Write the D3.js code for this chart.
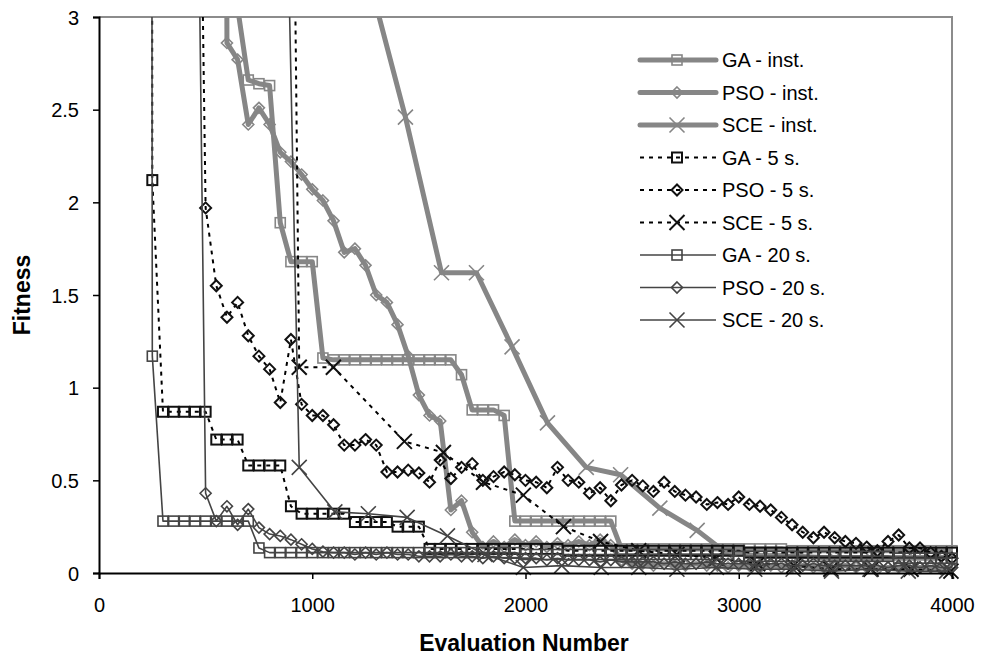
<!DOCTYPE html>
<html>
<head>
<meta charset="utf-8">
<script src="https://cdn.jsdelivr.net/npm/d3@7"></script>
<style>
  body { margin: 0; background: #fff; }
  svg { display: block; font-family: "Liberation Sans", Arial, sans-serif; }
</style>
</head>
<body>
<div id="chart"></div>
<script>
// evaluation numbers used by GA and PSO runs
const evals = [
  50,100,150,200,250,300,350,400,450,500,
  550,600,650,700,750,800,850,900,950,1000,
  1050,1100,1150,1200,1250,1300,1350,1400,1450,1500,
  1550,1600,1650,1700,1750,1800,1850,1900,1950,2000,
  2050,2100,2150,2200,2250,2300,2350,2400,2450,2500,
  2550,2600,2650,2700,2750,2800,2850,2900,2950,3000,
  3050,3100,3150,3200,3250,3300,3350,3400,3450,3500,
  3550,3600,3650,3700,3750,3800,3850,3900,3950,4000
];

const gaInst = [
  60,55,50,45,40,36,32,28,24,20,
  16,12,3.05,2.66,2.64,2.63,1.89,1.68,1.68,1.68,
  1.16,1.15,1.15,1.15,1.15,1.15,1.15,1.15,1.15,1.15,
  1.15,1.15,1.15,1.07,0.88,0.88,0.88,0.85,0.28,0.28,
  0.28,0.28,0.28,0.28,0.28,0.28,0.28,0.28,0.13,0.13,
  0.13,0.13,0.13,0.13,0.13,0.13,0.13,0.13,0.13,0.13,
  0.13,0.13,0.13,0.13,0.12,0.12,0.12,0.12,0.12,0.12,
  0.12,0.12,0.12,0.12,0.12,0.12,0.12,0.12,0.12,0.12
];
const psoInst = [
  80,70,60,55,50,45,40,35,30,25,
  20,2.86,2.77,2.42,2.51,2.42,2.27,2.22,2.15,2.07,
  2.01,1.90,1.73,1.75,1.66,1.50,1.46,1.34,1.17,0.96,
  0.85,0.82,0.34,0.39,0.22,0.14,0.17,0.14,0.18,0.15,
  0.17,0.14,0.16,0.15,0.17,0.15,0.18,0.15,0.07,0.05,
  0.05,0.04,0.05,0.04,0.04,0.05,0.04,0.04,0.03,0.04,
  0.04,0.03,0.04,0.03,0.03,0.04,0.03,0.03,0.03,0.04,
  0.03,0.03,0.02,0.03,0.03,0.02,0.03,0.03,0.02,0.03
];
const sceInstX = [761,930,1099,1268,1437,1606,1770,1937,2103,2285,2446,2630,2805,2940,3110,3280,3450,3620,3790,3960];
const sceInst  = [40,20,9,3.2,2.46,1.62,1.62,1.22,0.81,0.57,0.53,0.35,0.23,0.11,0.09,0.09,0.08,0.08,0.08,0.08];

const ga5 = [
  90,85,80,75,2.12,0.87,0.87,0.87,0.87,0.87,
  0.72,0.72,0.72,0.58,0.58,0.58,0.58,0.36,0.32,0.32,
  0.32,0.32,0.32,0.275,0.275,0.275,0.275,0.25,0.25,0.25,
  0.13,0.13,0.13,0.13,0.13,0.13,0.13,0.13,0.13,0.13,
  0.13,0.13,0.13,0.12,0.12,0.12,0.12,0.12,0.12,0.12,
  0.12,0.12,0.12,0.12,0.12,0.12,0.12,0.12,0.12,0.12,
  0.11,0.11,0.11,0.11,0.11,0.11,0.11,0.11,0.11,0.11,
  0.11,0.11,0.11,0.11,0.11,0.11,0.11,0.11,0.11,0.11
];
const pso5 = [
  40,35,30,25,20,15,10,8,6.0,1.97,
  1.55,1.38,1.46,1.28,1.17,1.10,0.92,1.26,0.91,0.85,
  0.85,0.80,0.69,0.69,0.72,0.69,0.545,0.545,0.555,0.54,
  0.49,0.61,0.51,0.57,0.59,0.50,0.52,0.545,0.53,0.50,
  0.49,0.46,0.57,0.50,0.49,0.43,0.46,0.39,0.475,0.50,
  0.47,0.44,0.49,0.44,0.42,0.41,0.37,0.38,0.37,0.41,
  0.37,0.36,0.34,0.30,0.26,0.22,0.19,0.22,0.19,0.17,
  0.16,0.14,0.12,0.17,0.205,0.135,0.135,0.11,0.09,0.08
];
const sce5X = [770,939,1099,1432,1615,1803,1990,2178,2352,2531,2710,2895,3089,3258,3432,3620,3808,3995];
const sce5  = [19,1.11,1.11,0.71,0.65,0.49,0.42,0.25,0.17,0.12,0.10,0.08,0.05,0.04,0.02,0.02,0.02,0.01];

const ga20 = [
  90,80,70,60,1.17,0.28,0.28,0.28,0.28,0.28,
  0.28,0.28,0.28,0.28,0.135,0.11,0.11,0.11,0.11,0.11,
  0.11,0.11,0.11,0.11,0.11,0.11,0.11,0.11,0.11,0.11,
  0.11,0.11,0.11,0.11,0.11,0.11,0.11,0.11,0.11,0.10,
  0.10,0.10,0.10,0.10,0.10,0.10,0.10,0.10,0.10,0.10,
  0.10,0.10,0.10,0.10,0.10,0.10,0.10,0.10,0.10,0.09,
  0.09,0.09,0.09,0.09,0.09,0.09,0.09,0.09,0.09,0.09,
  0.09,0.09,0.09,0.09,0.08,0.08,0.08,0.08,0.08,0.08
];
const pso20 = [
  30,25,20,15,12,10,8,6.5,5.2,0.43,
  0.28,0.36,0.26,0.345,0.245,0.21,0.20,0.18,0.155,0.13,
  0.115,0.11,0.11,0.10,0.11,0.10,0.11,0.10,0.10,0.09,
  0.09,0.09,0.10,0.09,0.09,0.08,0.09,0.08,0.08,0.08,
  0.08,0.07,0.08,0.07,0.07,0.07,0.06,0.07,0.06,0.06,
  0.06,0.06,0.05,0.06,0.05,0.05,0.06,0.05,0.05,0.05,
  0.05,0.04,0.05,0.05,0.04,0.04,0.05,0.04,0.04,0.04,
  0.04,0.04,0.04,0.03,0.04,0.04,0.03,0.04,0.03,0.03
];
const sce20X = [770,939,1106,1263,1445,1634,1810,1990,2170,2355,2531,2710,2895,3075,3255,3435,3615,3795,3975];
const sce20  = [9.7,0.57,0.33,0.32,0.30,0.20,0.10,0.03,0.04,0.03,0.03,0.02,0.03,0.02,0.02,0.01,0.02,0.01,0.01];

const xTicks = [0, 1000, 2000, 3000, 4000];
const yTicks = [0, 0.5, 1, 1.5, 2, 2.5, 3];

const width = 983, height = 660;
const plot = { left: 99, right: 952, top: 17, bottom: 573 };

// style per run length
const styles = {
  inst: { color: "#868686", width: 5, dash: null, mark: "#868686", markWidth: 1.6 },
  s5:   { color: "#000000", width: 2, dash: "4,5", mark: "#111111", markWidth: 2 },
  s20:  { color: "#444444", width: 1.6, dash: null, mark: "#444444", markWidth: 1.6 }
};

const series = [
  { name: "GA - inst.",  xs: evals,    ys: gaInst,  style: "inst", shape: "square" },
  { name: "PSO - inst.", xs: evals,    ys: psoInst, style: "inst", shape: "diamond" },
  { name: "SCE - inst.", xs: sceInstX, ys: sceInst, style: "inst", shape: "cross" },
  { name: "GA - 5 s.",   xs: evals,    ys: ga5,     style: "s5",   shape: "square" },
  { name: "PSO - 5 s.",  xs: evals,    ys: pso5,    style: "s5",   shape: "diamond" },
  { name: "SCE - 5 s.",  xs: sce5X,    ys: sce5,    style: "s5",   shape: "cross" },
  { name: "GA - 20 s.",  xs: evals,    ys: ga20,    style: "s20",  shape: "square" },
  { name: "PSO - 20 s.", xs: evals,    ys: pso20,   style: "s20",  shape: "diamond" },
  { name: "SCE - 20 s.", xs: sce20X,   ys: sce20,   style: "s20",  shape: "cross" }
];

const svg = d3.select("#chart").append("svg")
  .attr("width", width).attr("height", height);

const x = d3.scaleLinear().domain([0, 4000]).range([plot.left, plot.right]);
const y = d3.scaleLinear().domain([0, 3]).range([plot.bottom, plot.top]);

svg.append("defs").append("clipPath").attr("id", "plotclip")
  .append("rect")
  .attr("x", plot.left).attr("y", plot.top)
  .attr("width", plot.right - plot.left).attr("height", plot.bottom - plot.top);

// frame: gray top/right border
svg.append("path")
  .attr("d", `M${plot.left},${plot.top}H${plot.right}V${plot.bottom}`)
  .attr("fill", "none").attr("stroke", "#8c8c8c").attr("stroke-width", 2);

function drawMarker(g, shape, cx, cy, st) {
  if (shape === "square") {
    g.append("rect").attr("x", cx - 5).attr("y", cy - 5).attr("width", 10).attr("height", 10)
      .attr("fill", "none").attr("stroke", st.mark).attr("stroke-width", st.markWidth);
  } else if (shape === "diamond") {
    g.append("path").attr("d", `M${cx},${cy - 5.5}L${cx + 5.5},${cy}L${cx},${cy + 5.5}L${cx - 5.5},${cy}Z`)
      .attr("fill", "none").attr("stroke", st.mark).attr("stroke-width", st.markWidth);
  } else {
    const r = 7.5;
    g.append("path").attr("d", `M${cx - r},${cy - r}L${cx + r},${cy + r}M${cx - r},${cy + r}L${cx + r},${cy - r}`)
      .attr("fill", "none").attr("stroke", st.mark).attr("stroke-width", st.markWidth);
  }
}

const line = d3.line().x(d => x(d[0])).y(d => y(d[1]));
const layer = svg.append("g");

series.forEach(s => {
  const st = styles[s.style];
  const pts = s.xs.map((v, i) => [v, s.ys[i]]);
  const g = layer.append("g");
  g.append("path")
    .attr("clip-path", "url(#plotclip)")
    .attr("d", line(pts))
    .attr("fill", "none")
    .attr("stroke", st.color)
    .attr("stroke-width", st.width)
    .attr("stroke-linejoin", "round")
    .attr("stroke-dasharray", st.dash);
  pts.filter(p => p[1] <= 3 && p[0] <= 4000).forEach(p => {
    drawMarker(g, s.shape, x(p[0]), y(p[1]), st);
  });
});

// axes
const xAxis = svg.append("g")
  .attr("transform", `translate(0,${plot.bottom})`)
  .call(d3.axisBottom(x).tickValues(xTicks).tickSize(6).tickPadding(19).tickFormat(d3.format("d")));
const yAxis = svg.append("g")
  .attr("transform", `translate(${plot.left},0)`)
  .call(d3.axisLeft(y).tickValues(yTicks).tickSize(6).tickPadding(14).tickFormat(d => d));

[xAxis, yAxis].forEach(a => {
  a.select(".domain").attr("stroke", "#000").attr("stroke-width", 2);
  a.selectAll(".tick line").attr("stroke", "#000").attr("stroke-width", 1.5);
  a.selectAll(".tick text")
    .attr("fill", "#000")
    .style("font-size", "20px")
    .style("font-family", "'Liberation Sans', Arial, sans-serif");
});
yAxis.selectAll(".tick text").attr("dy", "0.36em");

svg.append("text")
  .attr("x", 524).attr("y", 651)
  .attr("text-anchor", "middle")
  .style("font-size", "23px").style("font-weight", "bold")
  .text("Evaluation Number");

svg.append("text")
  .attr("transform", `translate(30,${(plot.top + plot.bottom) / 2}) rotate(-90)`)
  .attr("text-anchor", "middle")
  .style("font-size", "23px").style("font-weight", "bold")
  .text("Fitness");

// legend
const legend = svg.append("g");
series.forEach((s, i) => {
  const st = styles[s.style];
  const ly = 60 + i * 32.5;
  const row = legend.append("g");
  row.append("line")
    .attr("x1", 640).attr("x2", 716).attr("y1", ly).attr("y2", ly)
    .attr("stroke", st.color).attr("stroke-width", st.width)
    .attr("stroke-linecap", s.style === "inst" ? "round" : "butt")
    .attr("stroke-dasharray", st.dash);
  drawMarker(row, s.shape, 677, ly, st);
  row.append("text")
    .attr("x", 722).attr("y", ly).attr("dy", "0.35em")
    .style("font-size", "20px")
    .text(s.name);
});
</script>
</body>
</html>
